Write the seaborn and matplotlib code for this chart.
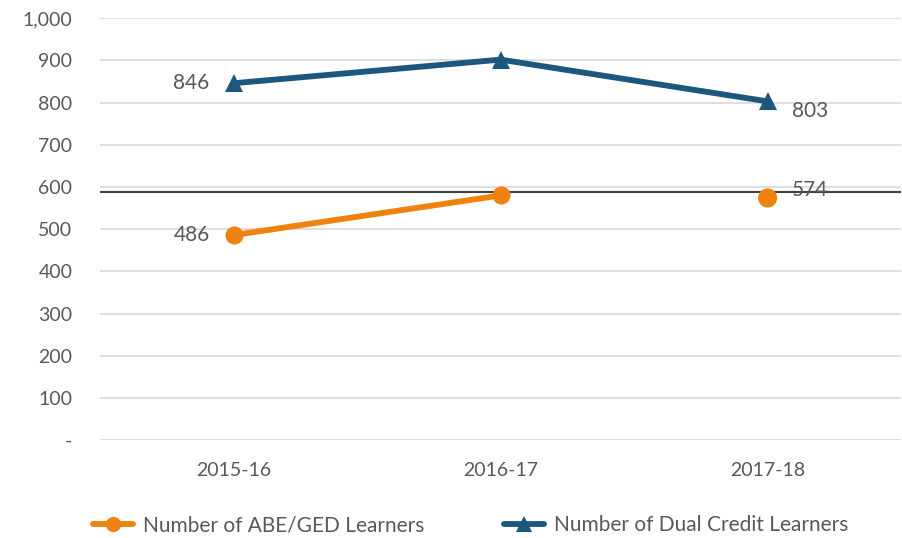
import matplotlib
matplotlib.use("Agg")
import matplotlib.pyplot as plt
import seaborn as sns
import pandas as pd
from matplotlib.lines import Line2D
from matplotlib.ticker import FuncFormatter

years = ["2015-16", "2016-17", "2017-18"]
abe = [486, 580, 574]
dual = [846, 902, 803]
reference_line = 587
y_ticks = [0, 100, 200, 300, 400, 500, 600, 700, 800, 900, 1000]

abe_label = "Number of ABE/GED Learners"
dual_label = "Number of Dual Credit Learners"

ORANGE = "#F0820F"
BLUE = "#1C587D"
TEXT = "#595959"

sns.set_theme(style="white")
plt.rcParams["font.family"] = ["Lato", "DejaVu Sans"]

fig, ax = plt.subplots(figsize=(9.02, 5.38), dpi=100)
fig.subplots_adjust(left=0.111, right=0.999, top=0.966, bottom=0.182)

x = list(range(len(years)))
df_dual = pd.DataFrame({"x": x, "v": dual})
df_abe_line = pd.DataFrame({"x": x[:2], "v": abe[:2]})
df_abe_pt = pd.DataFrame({"x": x[2:], "v": abe[2:]})

for yv in y_ticks:
    ax.axhline(yv, color="#D9D9D9", lw=1.2, zorder=0)

ax.axhline(reference_line, color="#404040", lw=1.5, zorder=1)

sns.lineplot(data=df_dual, x="x", y="v", ax=ax, color=BLUE, lw=4.2,
             marker="^", markersize=13, markeredgewidth=0, zorder=3)
sns.lineplot(data=df_abe_line, x="x", y="v", ax=ax, color=ORANGE, lw=4.2,
             marker="o", markersize=13, markeredgewidth=0, zorder=3)
sns.scatterplot(data=df_abe_pt, x="x", y="v", ax=ax, color=ORANGE, s=190,
                edgecolor="none", zorder=3)

# data labels
fs_lab = 15
ax.text(x[0] - 0.09, dual[0], f"{dual[0]}", ha="right", va="center", fontsize=fs_lab, color=TEXT)
ax.text(x[2] + 0.09, dual[2] - 22, f"{dual[2]}", ha="left", va="center", fontsize=fs_lab, color=TEXT)
ax.text(x[0] - 0.09, abe[0], f"{abe[0]}", ha="right", va="center", fontsize=fs_lab, color=TEXT)
ax.text(x[2] + 0.09, abe[2] + 20, f"{abe[2]}", ha="left", va="center", fontsize=fs_lab, color=TEXT)

ax.set_xlim(-0.5, 2.5)
ax.set_ylim(0, 1000)
ax.set_yticks(y_ticks)
ax.yaxis.set_major_formatter(FuncFormatter(lambda v, p: "-" if v == 0 else f"{int(v):,}"))
ax.set_xticks(x)
ax.set_xticklabels(years)
ax.tick_params(axis="both", colors=TEXT, labelsize=14, length=0)
ax.tick_params(axis="x", pad=16)
ax.tick_params(axis="y", pad=20)
ax.set_xlabel("")
ax.set_ylabel("")
for s in ax.spines.values():
    s.set_visible(False)

handles = [
    Line2D([0], [0], color=ORANGE, lw=4.2, marker="o", markersize=11, markeredgewidth=0),
    Line2D([0], [0], color=BLUE, lw=4.2, marker="^", markersize=11, markeredgewidth=0),
]
leg = fig.legend(handles, [abe_label, dual_label], loc="lower center",
                 bbox_to_anchor=(0.522, -0.03), ncol=2, frameon=False,
                 fontsize=15, handlelength=1.9, columnspacing=3.8, handletextpad=0.5)
for t in leg.get_texts():
    t.set_color(TEXT)

fig.savefig("out.png", dpi=100)
